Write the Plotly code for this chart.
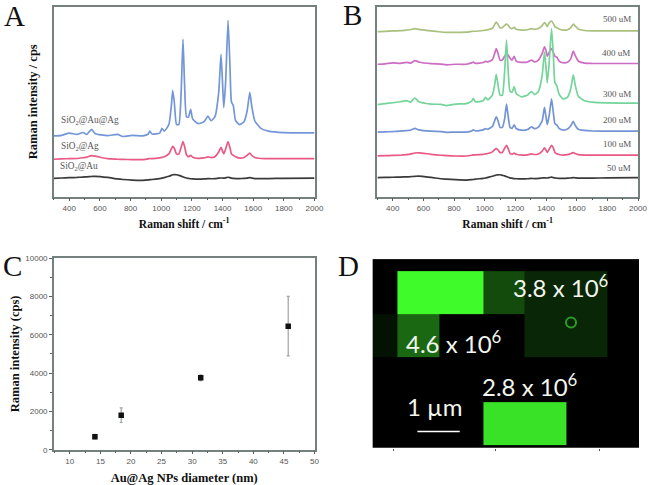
import plotly.graph_objects as go

W_PX, H_PX = 649, 485
VIEW_W, VIEW_H = 641, 479.5

shift = [300,350,400,450,490,515,545,570,650,715,750,810,880,915,925,940,990,1005,1020,1050,1065,1075,1085,1100,1115,1130,1142,1152,1165,1178,1192,1205,1240,1280,1305,1325,1350,1375,1390,1400,1408,1420,1436,1448,1458,1470,1485,1510,1540,1560,1578,1590,1610,1650,1700,1800,2000]

a_auag = [32,32.3,33.5,32.8,33.8,32.8,35.5,33.2,32.2,32.8,31.7,32.3,32,33,34.5,33,33.5,36,34.5,38,47,56,50,38,38,55,83,60,42,42,46,41,38.5,39.5,42.5,40,42,55,75,60,47,60,93,70,50,48,40,38,39.5,45,55,48,40,36,34.5,33.7,33.6]
a_ag = [19.7,19.9,20,20.1,20.5,20.8,21.6,21.3,20,19.7,19.6,19.5,19.5,19.9,20.1,20,20.4,20.7,21,22.5,25,26.5,25.5,22.5,22.5,26,29,26.5,22,21,21.8,20.8,20.2,20.4,20.9,20.6,21,23.5,26,24,22.5,25,29,26,22.5,21.8,21,20.3,20.6,21.7,23,21.8,20.6,20.1,20,20,20]
a_au = [9.6,9.8,10,10.1,10.3,10.4,10.6,10.7,10.1,9.3,9,8.7,8.6,8.8,8.9,9,9.5,9.7,10,10.7,11.2,11.5,11.6,11.5,11.2,10.8,10.4,10.1,9.8,9.6,9.4,9.3,9.2,9.3,9.5,9.4,9.5,9.7,9.8,9.8,9.7,9.9,10.2,10,9.7,9.6,9.5,9.5,9.6,9.7,10,9.8,9.5,9.5,9.5,9.6,9.7]

b_50 = [10,10.1,10.2,10.3,10.4,10.5,10.7,10.8,10.1,9.4,9.2,8.9,8.7,8.9,9,9.2,9.6,9.8,10.1,10.7,11.1,11.4,11.5,11.5,11.2,10.9,10.5,10.2,9.9,9.7,9.5,9.4,9.3,9.4,9.6,9.5,9.6,9.8,9.9,9.8,9.8,10,10.3,10,9.8,9.7,9.6,9.6,9.7,9.8,10,9.9,9.7,9.7,9.7,9.9,10]
b_100 = [21.5,21.6,21.7,21.8,22.1,22.4,23,23.1,22.3,21.8,21.6,21.4,21.4,21.8,22,22,22.3,22.5,22.7,23.6,24.8,25.3,24.8,23.3,23.3,25.5,27,25.5,22.8,22.4,22.9,22.3,21.9,22,22.5,22.2,22.5,24,25.7,24.5,23.3,24.8,27,25.5,23.3,22.6,22.2,21.9,22.1,22.6,23.2,22.7,22.1,21.9,21.9,21.9,21.9]
b_200 = [34,34.1,34.3,34.5,34.8,35,36,35.2,34.5,34.3,33.9,34,34,34.6,35.2,34.6,35.2,35.8,35.5,37,40,42,40.5,36.5,36.5,41,48.8,43,36.5,36,37.8,35.9,35,35.4,36.8,35.8,36.6,40,47,42,38,42.5,51.6,44,38.5,37.8,36,35.1,35.6,37.2,39.7,37.6,35.5,34.9,34.6,34.5,34.5]
b_300 = [48.5,49,49.5,50,50.6,49.8,52,50,48.8,48.6,48,48.8,49,50.3,51.8,50,50.5,52.3,51,53.5,59,64.5,60,53.5,53.5,66,82.5,68,55.5,55,58,54.4,52.6,53.6,55.4,53.8,55.4,64,76.4,68,60,70,88.6,74,60,58.5,54,51.5,52.4,56.5,64.2,59,53,50.5,49.8,49.4,49.3]
b_400 = [69.8,70,70.5,70.3,70.8,70.4,71.7,71,70.1,69.9,69.5,69.8,69.8,70.5,70.9,70.3,70.7,71.3,71,72.2,75.5,78,76,72,72,74,75.5,74.8,73,72,74,71.5,70.8,71,72,71,72,75.5,79,77,74,76,78,76,74,73.5,71.5,70.6,70.9,72.5,76.7,74.5,71.5,70.4,70.2,70.2,70.2]
b_500 = [87,87.1,87.4,87.5,87.8,88,88.6,88.2,87.4,86.8,86.6,86.6,86.7,87.1,87.2,87.2,87.6,87.8,88,88.8,90.8,92,91,89,89.2,90.2,91,90.4,89,88.6,89.2,88.2,87.8,88,88.6,88.2,88.6,90.2,91.8,90.8,89.6,91.6,92.6,91.2,89.6,89,88.4,87.8,88,89,91,90,88.4,87.6,87.4,87.4,87.4]

panel_a = [("SiO<sub>2</sub>@Au@Ag", a_auag, "#7396d8", 335, 40),
           ("SiO<sub>2</sub>@Ag", a_ag, "#e85a85", 335, 26.5),
           ("SiO<sub>2</sub>@Au", a_au, "#3a3a3a", 328, 15.7)]
panel_b = [("500 uM", b_500, "#a9c07f", 1757, 93.5),
           ("400 uM", b_400, "#cc6cc2", 1750, 75.5),
           ("300 uM", b_300, "#74d49a", 1757, 53.9),
           ("200 uM", b_200, "#7394d4", 1757, 40.3),
           ("100 uM", b_100, "#e85a85", 1757, 27.5),
           ("50 uM", b_50, "#3a3a3a", 1785, 15)]

diameter = [14.1, 18.4, 31.4, 45.7]
intensity = [680, 1800, 3760, 6450]
intensity_err = [120, 380, 150, 1550]

map_x_edges = [0, 75, 202, 332, 455, 582, 705, 800]
map_y_edges = [0, 35, 165, 296, 431, 561, 568]
map_z = [[0, 0, 0, 0, 0, 0, 0],
         [0, 1, 1, 0.3, 0.15, 0.15, 0],
         [0.07, 0.42, 0, 0, 0.15, 0.15, 0],
         [0, 0, 0, 0, 0, 0, 0],
         [0, 0, 0, 0.9, 0.9, 0, 0],
         [0, 0, 0, 0, 0, 0, 0]]

FRAME = "#75817f"
TICK = "#555f5f"
SERIF = "Liberation Serif"
SANS = "Liberation Sans"

def dom(a, b):
    return [a / VIEW_W, b / VIEW_W]

def ydom(top, bottom):
    return [1 - bottom / VIEW_H, 1 - top / VIEW_H]

fig = go.Figure()

for name, vals, col, lx, ly in panel_a:
    fig.add_trace(go.Scatter(x=shift, y=vals, mode="lines", name=name, line=dict(color=col, width=1.7, shape="spline", smoothing=0.5), xaxis="x", yaxis="y", showlegend=False))
for name, vals, col, lx, ly in panel_b:
    fig.add_trace(go.Scatter(x=shift, y=vals, mode="lines", name=name, line=dict(color=col, width=1.7, shape="spline", smoothing=0.5), xaxis="x2", yaxis="y2", showlegend=False))
fig.add_trace(go.Scatter(x=diameter, y=intensity, mode="markers", xaxis="x3", yaxis="y3", showlegend=False,
                         marker=dict(symbol="square", size=5.5, color="#111"),
                         error_y=dict(type="data", array=intensity_err, color="#9aa5a3", thickness=1.2, width=1.5)))
fig.add_trace(go.Heatmap(x=map_x_edges, y=map_y_edges, z=map_z, xaxis="x4", yaxis="y4", showscale=False, hoverinfo="skip",
                         zmin=0, zmax=1, colorscale=[[0, "#000000"], [1, "#3ffb2a"]]))

tick_font = dict(family=SANS, size=8, color="#555")
title_font = dict(family=SERIF, size=11.5, color="#111")
title_font_c = dict(family=SERIF, size=12.5, color="#111")

def spectrum_x(domain, anchor):
    return dict(domain=domain, anchor=anchor, range=[300, 2000], tickmode="linear", tick0=400, dtick=200,
                ticks="outside", ticklen=3, tickcolor=TICK, showline=True, linecolor=FRAME, linewidth=1.5, mirror=True,
                showgrid=False, zeroline=False, tickfont=tick_font,
                minor=dict(dtick=100, tick0=300, ticks="outside", ticklen=2, tickcolor=TICK),
                title=dict(text="<b>Raman shift / cm<sup>-1</sup></b>", font=title_font, standoff=8))

def spectrum_y(domain, anchor, title):
    return dict(domain=domain, anchor=anchor, range=[0, 100], showticklabels=False, ticks="", showline=True,
                linecolor=FRAME, linewidth=1.5, mirror=True, showgrid=False, zeroline=False,
                title=dict(text=title, font=title_font_c, standoff=12) if title else None)

annotations = []
for name, vals, col, lx, ly in panel_a:
    annotations.append(dict(x=lx, y=ly, xref="x", yref="y", text=name, showarrow=False, xanchor="left",
                            font=dict(family=SERIF, size=9.3, color="#555")))
for name, vals, col, lx, ly in panel_b:
    annotations.append(dict(x=lx, y=ly, xref="x2", yref="y2", text=name, showarrow=False, xanchor="left",
                            font=dict(family=SERIF, size=9, color="#555")))
for letter, px, py in [("A", 15, 12), ("B", 353, 11), ("C", 13, 264), ("D", 349, 264)]:
    annotations.append(dict(x=px / VIEW_W, y=1 - py / VIEW_H, xref="paper", yref="paper", text=letter, showarrow=False,
                            xanchor="center", yanchor="middle",
                            font=dict(family=SERIF, size=29, color="#111")))
for text, mx, my, size in [("3.8 x 10<sup>6</sup>", 415, 81, 24), ("4.6 x 10<sup>6</sup>", 95, 249, 24),
                           ("2.8 x 10<sup>6</sup>", 322, 378, 24), ("1 µm", 98, 443, 24)]:
    annotations.append(dict(x=mx, y=my, xref="x4", yref="y4", text=text, showarrow=False, xanchor="left",
                            font=dict(family="Lato", size=size, color="#f2f6ee")))

fig.update_layout(
    width=W_PX, height=H_PX, autosize=False,
    margin=dict(l=0, r=0, t=0, b=0),
    paper_bgcolor="white", plot_bgcolor="white", showlegend=False,
    xaxis=spectrum_x(dom(54, 315), "y"),
    yaxis=spectrum_y(ydom(3, 194), "x", "<b>Raman intensity / cps</b>"),
    xaxis2=spectrum_x(dom(378, 639), "y2"),
    yaxis2=spectrum_y(ydom(3, 194), "x2", None),
    xaxis3=dict(domain=dom(54, 315), anchor="y3", range=[7.4, 50], tickmode="linear", tick0=10, dtick=5,
                ticks="outside", ticklen=3, tickcolor=TICK, showline=True, linecolor=FRAME, linewidth=1.5, mirror=True,
                showgrid=False, zeroline=False, tickfont=tick_font,
                minor=dict(dtick=2.5, tick0=7.5, ticks="outside", ticklen=2, tickcolor=TICK),
                title=dict(text="<b>Au@Ag NPs diameter (nm)</b>", font=title_font_c, standoff=8)),
    yaxis3=dict(domain=ydom(256, 449), anchor="x3", range=[0, 10000], tickmode="linear", tick0=0, dtick=2000,
                tickformat="d", ticks="outside", ticklen=3, tickcolor=TICK, showline=True, linecolor=FRAME, linewidth=1.5, mirror=True,
                showgrid=False, zeroline=False, tickfont=tick_font,
                minor=dict(dtick=1000, ticks="outside", ticklen=2, tickcolor=TICK),
                title=dict(text="<b>Raman intensity (cps)</b>", font=title_font_c, standoff=3)),
    xaxis4=dict(domain=dom(373, 640), anchor="y4", range=[0, 800], showticklabels=False, showgrid=False,
                zeroline=False, tickmode="array", tickvals=[63, 368, 680], ticks="outside", ticklen=2, tickcolor="#555"),
    yaxis4=dict(domain=ydom(257, 447), anchor="x4", range=[568, 0], showticklabels=False, showgrid=False,
                zeroline=False, ticks=""),
    annotations=annotations,
    shapes=[dict(type="line", xref="x4", yref="y4", x0=135, x1=262, y0=519, y1=519, line=dict(color="white", width=1.5)),
            dict(type="circle", xref="x4", yref="y4", x0=581, x1=611, y0=176, y1=206, line=dict(color="#2f9a2a", width=2))],
)

fig.write_html("out.html", config=dict(displayModeBar=False),
               post_script="document.body.style.margin='0';document.documentElement.style.overflow='hidden';")
